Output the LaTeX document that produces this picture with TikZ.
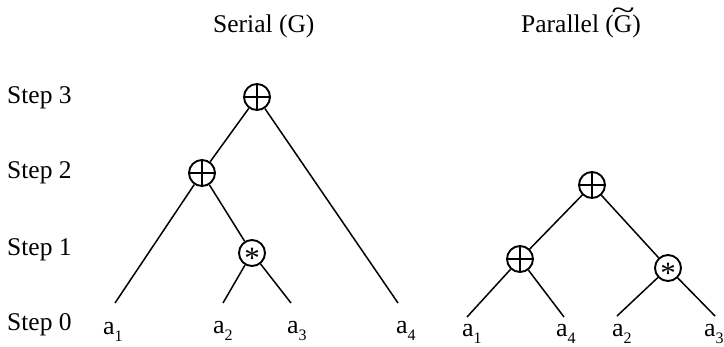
\documentclass[tikz,border=0pt]{standalone}
\usepackage{fontspec}
\setmainfont{Liberation Serif}
\newcommand{\leafl}[1]{a\raisebox{-0.28em}{\fontsize{16}{16}\selectfont #1}}
\newcommand{\wideGtilde}{\ooalign{G\cr\hidewidth\raisebox{0.5em}{\scalebox{1.7}[1.1]{\~{}}}\hidewidth\cr}}
\begin{document}
\begin{tikzpicture}[x=1pt,y=-1pt,
  txt/.style={font=\fontsize{25.5}{28}\selectfont, inner sep=0pt},
  lf/.style={font=\fontsize{26}{28}\selectfont, inner sep=0pt, anchor=base west},
  opplus/.style={circle, draw, line width=1.9pt, minimum size=26pt, inner sep=0pt,
    path picture={\draw[line width=1.8pt] (path picture bounding box.north) -- (path picture bounding box.south)
      (path picture bounding box.west) -- (path picture bounding box.east);}},
  opstar/.style={circle, draw, line width=1.9pt, minimum size=26pt, inner sep=0pt},
  astx/.style={font=\fontsize{31}{31}\selectfont, inner sep=0pt, anchor=base, yshift=-15.5pt},
  edge/.style={line width=1.5pt}]
\useasboundingbox (0,0) rectangle (724,346);
% titles
\node[txt, anchor=base west] (tser) at (213,32) {Serial (G)};
\node[txt, anchor=base west] (tpar) at (521,32) {Parallel (\wideGtilde)};
% step labels
\node[txt, anchor=base west] (s3) at (7,103) {Step 3};
\node[txt, anchor=base west] (s2) at (7,178) {Step 2};
\node[txt, anchor=base west] (s1) at (7,255) {Step 1};
\node[txt, anchor=base west] (s0) at (7,330) {Step 0};
% serial tree
\node[opplus] (sr) at (257,97) {};
\node[opplus] (sm) at (202,173) {};
\node[opstar] (ss) at (252,253) {};
\node[astx] (ssx) at (ss) {*};
\coordinate (sa1) at (115,303);
\coordinate (sa2) at (223,303);
\coordinate (sa3) at (291,303);
\coordinate (sa4) at (398,303);
\node[lf] (la1) at (103,334) {\leafl{1}};
\node[lf] (la2) at (213,333) {\leafl{2}};
\node[lf] (la3) at (287,333) {\leafl{3}};
\node[lf] (la4) at (396,333) {\leafl{4}};
\draw[edge] (sr) -- (sm);
\draw[edge] (sr) -- (sa4);
\draw[edge] (sm) -- (sa1);
\draw[edge] (sm) -- (ss);
\draw[edge] (ss) -- (sa2);
\draw[edge] (ss) -- (sa3);
% parallel tree
\node[opplus] (pr) at (592,185) {};
\node[opplus] (pl) at (520,259) {};
\node[opstar] (ps) at (668,268) {};
\node[astx] (psx) at (ps) {*};
\coordinate (pa1) at (467,317);
\coordinate (pa4) at (564,317);
\coordinate (pa2) at (617,316);
\coordinate (pa3) at (715,316);
\node[lf] (lp1) at (462,336) {\leafl{1}};
\node[lf] (lp4) at (556,336) {\leafl{4}};
\node[lf] (lp2) at (612,336) {\leafl{2}};
\node[lf] (lp3) at (704,336) {\leafl{3}};
\draw[edge] (pr) -- (pl);
\draw[edge] (pr) -- (ps);
\draw[edge] (pl) -- (pa1);
\draw[edge] (pl) -- (pa4);
\draw[edge] (ps) -- (pa2);
\draw[edge] (ps) -- (pa3);
\end{tikzpicture}
\end{document}
